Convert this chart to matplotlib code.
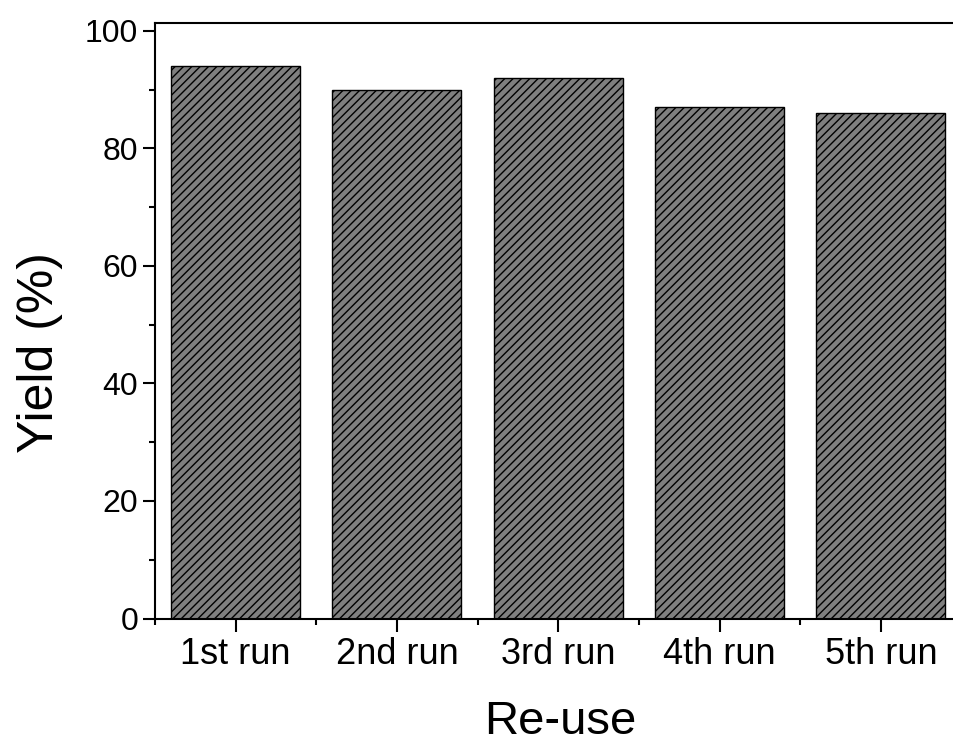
import matplotlib.pyplot as plt
import numpy as np
from matplotlib.ticker import MultipleLocator

runs = ["1st run", "2nd run", "3rd run", "4th run", "5th run"]
yields = [94, 90, 92, 87, 86]

plt.rcParams['font.family'] = ['Liberation Sans', 'DejaVu Sans']
plt.rcParams['hatch.linewidth'] = 1.0

fig = plt.figure(figsize=(9.54, 7.44), dpi=100)
# axes runs a bit past the right edge, like the cropped original
ax = fig.add_axes([155/954, 1-618.5/744, (961.5-155)/954, (618.5-22.7)/744])

x = np.arange(1, len(runs)+1)
ax.bar(x, yields, width=0.8, color="#7f7f7f", edgecolor="black",
       linewidth=1.0, hatch="////")

ax.set_xlim(0.5, 5.5)
ax.set_ylim(0, 101.4)
ax.set_xticks(x)
ax.set_xticklabels(runs)
ax.xaxis.set_minor_locator(MultipleLocator(1, offset=0.5))
ax.set_yticks(np.arange(0, 101, 20))
ax.yaxis.set_minor_locator(MultipleLocator(10))

for s in ax.spines.values():
    s.set_linewidth(1.5)

ax.tick_params(which="major", direction="out", length=9, width=1.5, pad=3)
ax.tick_params(which="minor", direction="out", length=4.5, width=1.5)
ax.tick_params(axis="y", which="major", labelsize=23)
ax.tick_params(axis="x", which="major", labelsize=26, pad=4)

ax.set_xlabel("Re-use", fontsize=34)
ax.set_ylabel("Yield (%)", fontsize=36)
ax.xaxis.set_label_coords(0.503, -0.136)
ax.yaxis.set_label_coords(-0.114, 0.447)

fig.savefig("out.png", dpi=100)
